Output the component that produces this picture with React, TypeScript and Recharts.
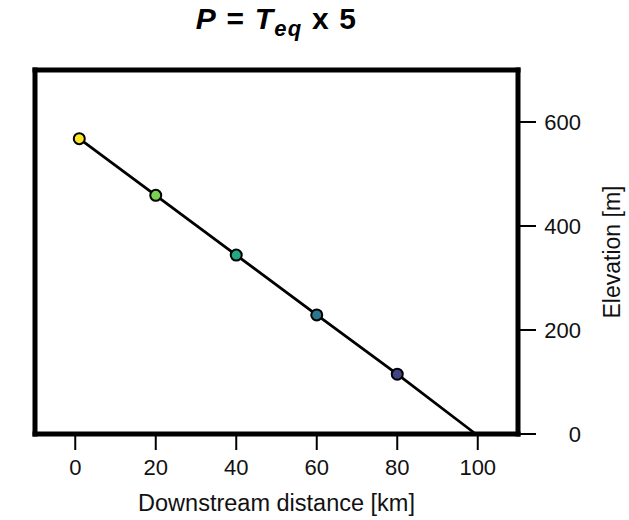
import { ComposedChart, Line, XAxis, YAxis } from 'recharts';

const DISTANCE = [1, 20, 40, 60, 80, 99.5];
const ELEVATION = [568, 459, 344, 229, 115, 0];
// viridis-like node colours, last point (outlet) has no marker
const NODE_COLORS = ['#fde725', '#7ad151', '#22a884', '#2a788e', '#414487'];
const X_TICKS = [0, 20, 40, 60, 80, 100];
const Y_TICKS = [0, 200, 400, 600];

const FONT = '"Liberation Sans", Arial, Helvetica, sans-serif';
const TICK_STYLE = { fontSize: 22, fill: '#111', fontFamily: FONT };
const FRAME = { stroke: '#000', strokeWidth: 5, strokeLinecap: 'square' as const };
const TICK_LINE = { stroke: '#000', strokeWidth: 2 };

const data = DISTANCE.map((d, i) => ({ distance: d, elevation: ELEVATION[i], color: NODE_COLORS[i] }));

function renderTitle(props: any) {
  const { viewBox } = props;
  const cx = viewBox.x + viewBox.width / 2;
  return (
    <text
      x={cx}
      y={viewBox.y - 25}
      textAnchor="middle"
      fontFamily={FONT}
      fontWeight="bold"
      fontSize={30}
      letterSpacing={1.2}
      fill="#000"
    >
      <tspan fontStyle="italic">P</tspan>
      <tspan> = </tspan>
      <tspan fontStyle="italic">T</tspan>
      <tspan fontStyle="italic" fontSize={22} dy={7}>eq</tspan>
      <tspan dy={-7}> x 5</tspan>
    </text>
  );
}

function renderXLabel(props: any) {
  const { viewBox } = props;
  return (
    <text x={viewBox.x + viewBox.width / 2} y={viewBox.y + 77} textAnchor="middle" fontFamily={FONT} fontSize={23.5} fill="#111">
      Downstream distance [km]
    </text>
  );
}

function renderYLabel(props: any) {
  const { viewBox } = props;
  const x = viewBox.x + 102;
  const y = viewBox.y + viewBox.height / 2;
  return (
    <text x={x} y={y} transform={`rotate(-90, ${x}, ${y})`} textAnchor="middle" fontFamily={FONT} fontSize={23} fill="#111">
      Elevation [m]
    </text>
  );
}

function RightTick(props: any) {
  const { y, payload } = props;
  return (
    <text x={581} y={y} dy="0.355em" textAnchor="end" {...TICK_STYLE}>
      {payload.value}
    </text>
  );
}

function NodeDot(props: any) {
  const { cx, cy, index, payload } = props;
  if (!payload.color) return <g key={index} />;
  return <circle key={index} cx={cx} cy={cy} r={5.5} fill={payload.color} stroke="#000" strokeWidth={2} />;
}

export default function App() {
  return (
    <div style={{ position: 'absolute', left: 0, top: 0, background: '#fff' }}>
      <ComposedChart width={629} height={520} data={data} margin={{ top: 54, right: 0, bottom: 0, left: 15 }}>
        <XAxis
          xAxisId="top"
          orientation="top"
          type="number"
          dataKey="distance"
          domain={[-10, 110]}
          ticks={X_TICKS}
          height={16}
          tick={false}
          tickSize={16}
          axisLine={FRAME}
          tickLine={TICK_LINE}
          label={{ content: renderTitle }}
        />
        <XAxis
          xAxisId="bottom"
          orientation="bottom"
          type="number"
          dataKey="distance"
          domain={[-10, 110]}
          ticks={X_TICKS}
          height={86}
          tick={TICK_STYLE}
          tickSize={16}
          tickMargin={9}
          axisLine={FRAME}
          tickLine={TICK_LINE}
          label={{ content: renderXLabel }}
        />
        <YAxis
          yAxisId="left"
          orientation="left"
          type="number"
          domain={[0, 700]}
          ticks={Y_TICKS}
          width={20}
          tick={false}
          tickSize={18}
          axisLine={FRAME}
          tickLine={TICK_LINE}
        />
        <YAxis
          yAxisId="right"
          orientation="right"
          type="number"
          domain={[0, 700]}
          ticks={Y_TICKS}
          width={111}
          tick={<RightTick />}
          tickSize={18}
          axisLine={FRAME}
          tickLine={TICK_LINE}
          label={{ content: renderYLabel }}
        />
        <Line
          xAxisId="bottom"
          yAxisId="right"
          type="linear"
          dataKey="elevation"
          stroke="#000"
          strokeWidth={2.8}
          dot={NodeDot}
          activeDot={false}
          isAnimationActive={false}
        />
      </ComposedChart>
    </div>
  );
}
